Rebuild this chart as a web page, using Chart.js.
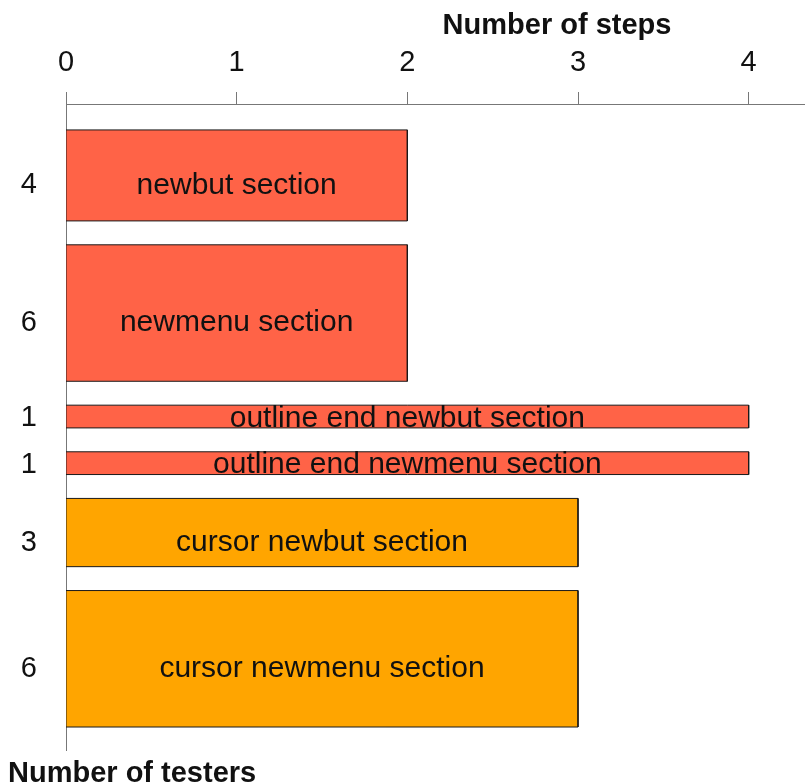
<!DOCTYPE html>
<html><head><meta charset="utf-8">
<script src="https://cdn.jsdelivr.net/npm/chart.js@4/dist/chart.umd.min.js"></script>
<style>html,body{margin:0;padding:0;background:#fff}#wrap{width:805px;height:784px}</style>
</head><body><div id="wrap"><canvas id="c" width="805" height="784"></canvas></div>
<script>
// ---- data ----
const categories = ['newbut section','newmenu section','outline end newbut section','outline end newmenu section','cursor newbut section','cursor newmenu section'];
const steps = [2, 2, 4, 4, 3, 3];
const testers = [4, 6, 1, 1, 3, 6];
const barColors = ['#FF6347','#FF6347','#FF6347','#FF6347','#FFA500','#FFA500'];
const xTicks = [0, 1, 2, 3, 4];
const xTitle = 'Number of steps';
const yTitle = 'Number of testers';

// ---- layout in tester units ----
const TOP_OFFSET = 1.14, GAP = 1.05, Y_MAX = 28.4, X_MAX = 4.33;
const starts = [];
let acc = TOP_OFFSET;
testers.forEach(t => { starts.push(acc); acc += t + GAP; });
const ends = starts.map((s, i) => s + testers[i]);
const baselineShift = testers.map(t => Math.min(0.8, t / 2 - 0.06));
const yTickPos = starts.map((s, i) => s + testers[i] / 2 + 0.08 + Math.max(0, baselineShift[i] - 0.44));

const FONT = "'Liberation Sans', Arial, sans-serif";

const datasets = categories.map((name, i) => ({
  label: name,
  data: [
    {x: 0, y: starts[i]}, {x: steps[i], y: starts[i]},
    {x: steps[i], y: ends[i]}, {x: 0, y: ends[i]}, {x: 0, y: starts[i]}
  ],
  showLine: true,
  fill: 'shape',
  backgroundColor: barColors[i],
  borderColor: '#1a1a1a',
  borderWidth: 1,
  pointRadius: 0,
  pointHoverRadius: 0,
  tension: 0
}));

const labelPlugin = {
  id: 'labels',
  afterDatasetsDraw(chart) {
    const {ctx, scales: {x, y}} = chart;
    ctx.save();
    ctx.font = '30px ' + FONT;
    ctx.fillStyle = '#111';
    ctx.textAlign = 'center';
    ctx.textBaseline = 'alphabetic';
    categories.forEach((name, i) => {
      const cx = (x.getPixelForValue(0) + x.getPixelForValue(steps[i])) / 2;
      const base = y.getPixelForValue(starts[i] + testers[i] / 2 + baselineShift[i]);
      ctx.fillText(name, cx, base);
    });
    ctx.restore();
  },
  afterDraw(chart) {
    const {ctx, chartArea} = chart;
    ctx.save();
    ctx.font = 'bold 29px ' + FONT;
    ctx.fillStyle = '#111';
    ctx.textBaseline = 'alphabetic';
    ctx.textAlign = 'center';
    ctx.fillText(xTitle, chartArea.left + 491, 34);
    ctx.textAlign = 'left';
    ctx.fillText(yTitle, 8, chartArea.bottom + 32);
    ctx.restore();
  }
};

const zeroPad = s => { s.paddingTop = 0; s.paddingBottom = 0; s.paddingLeft = 0; s.paddingRight = 0; };

new Chart(document.getElementById('c'), {
  type: 'scatter',
  data: {datasets},
  options: {
    responsive: false,
    animation: false,
    devicePixelRatio: 1,
    layout: {padding: {left: 0, right: 0, top: 0, bottom: 34}},
    plugins: {legend: {display: false}, tooltip: {enabled: false}},
    scales: {
      x: {
        type: 'linear', position: 'top', min: 0, max: X_MAX,
        afterBuildTicks: s => { s.ticks = xTicks.map(v => ({value: v})); },
        afterFit: s => { s.height = 104; zeroPad(s); },
        grid: {drawOnChartArea: false, tickLength: 12, color: '#777', lineWidth: 1},
        border: {color: '#777', width: 1},
        ticks: {font: {family: FONT, size: 29}, color: '#111', padding: 12, maxRotation: 0, autoSkip: false,
                callback: v => String(v)}
      },
      y: {
        type: 'linear', reverse: true, min: 0, max: Y_MAX,
        afterBuildTicks: s => { s.ticks = yTickPos.map(v => ({value: v})); },
        afterFit: s => { s.width = 66; zeroPad(s); },
        grid: {drawOnChartArea: false, drawTicks: false, color: '#777'},
        border: {color: '#777', width: 1},
        ticks: {font: {family: FONT, size: 29}, color: '#111', padding: 29, autoSkip: false,
                callback: (v, i) => String(testers[i])}
      }
    }
  },
  plugins: [labelPlugin]
});
</script>
</body></html>
